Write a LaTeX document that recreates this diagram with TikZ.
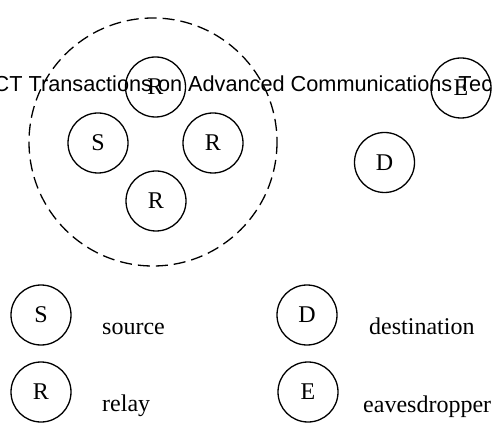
\documentclass[tikz,border=0pt]{standalone}
\usepackage{fontspec}
\setmainfont{Liberation Serif}
\newfontfamily\hdrfont{Liberation Sans}
\begin{document}
\begin{tikzpicture}[x=1pt,y=-1pt,
  nodecirc/.style={circle,draw,line width=1.3pt,minimum size=60pt,inner sep=0pt,font=\fontsize{24}{28}\selectfont},
  legtext/.style={anchor=base west,inner sep=0pt,font=\fontsize{24}{28}\selectfont},
  zone/.style={draw,dashed,line width=1.3pt,dash pattern=on 12pt off 6pt}]
\useasboundingbox (0,0) rectangle (492,427);
\clip (0,0) rectangle (492,427);
% dashed cluster
\draw[zone] (153,142) circle[radius=124];
% header text
\node[anchor=base west,inner sep=0pt,font=\hdrfont\fontsize{21.7}{26}\selectfont] (hdr) at (188,92) {\llap{ICACT Transactions on }Advanced Communications Technology};
% network nodes
\node[nodecirc] (r1) at (155.5,87) {R};
\node[nodecirc] (s) at (98,143) {S};
\node[nodecirc] (r2) at (213,143) {R};
\node[nodecirc] (r3) at (156,201) {R};
\node[nodecirc] (d) at (384.5,162.5) {D};
\node[nodecirc] (e) at (461,88) {E};
% legend
\node[nodecirc] (ls) at (41,315) {S};
\node[nodecirc] (lr) at (41,392) {R};
\node[nodecirc] (ld) at (307,315) {D};
\node[nodecirc] (le) at (308,392) {E};
\node[legtext] (ts) at (102,334) {source};
\node[legtext] (tr) at (102,411) {relay};
\node[legtext] (td) at (369,334) {destination};
\node[legtext] (te) at (363,412) {eavesdropper};
\end{tikzpicture}
\end{document}
